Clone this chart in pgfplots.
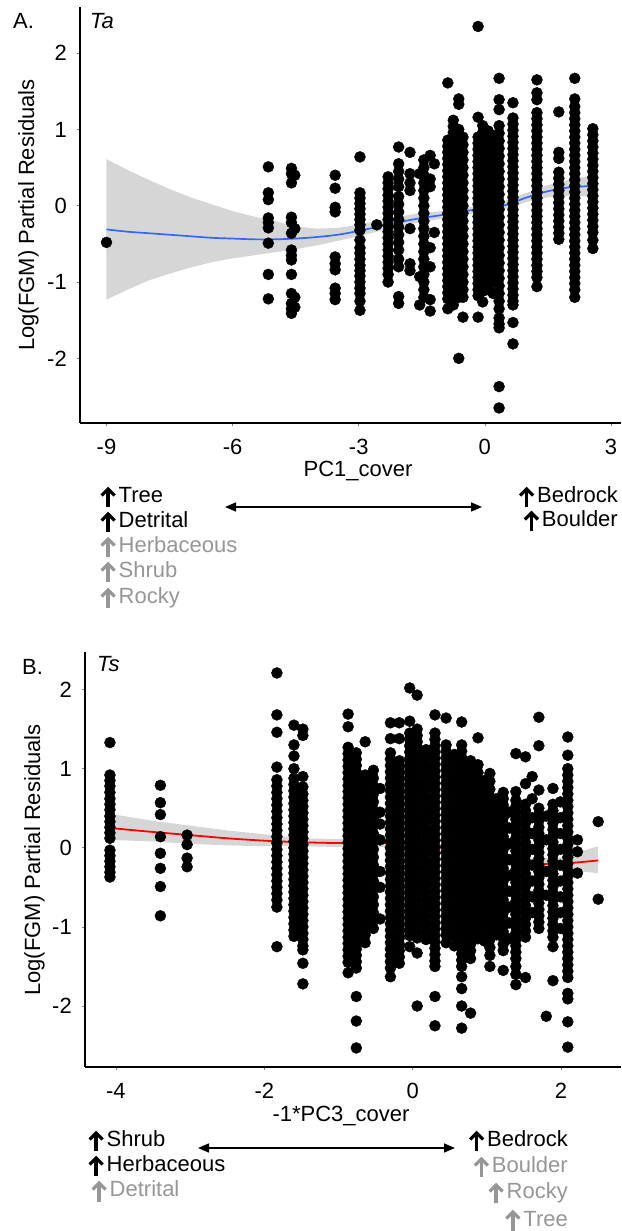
\documentclass[border=0pt]{standalone}
\usepackage{fontspec}
\setmainfont{Liberation Sans}
\usepackage{pgfplots}
\pgfplotsset{compat=1.18}
\usetikzlibrary{arrows.meta}
\definecolor{lbl}{HTML}{969696}
\definecolor{smoothblue}{HTML}{3366FF}
\definecolor{ribbon}{HTML}{999999}
\newcommand\up[1][black]{\tikz[baseline=0pt, x=1pt, y=1pt]{\useasboundingbox (0,-4) rectangle (18.5,15); \draw[#1, line width=3.6pt] (8,-4.5) -- (8,13); \draw[#1, line width=3.2pt, line join=miter, miter limit=10] (1.5,7.5) -- (8,14) -- (14.5,7.5);}}
\pgfplotsset{
 resid/.style={
  scale only axis, clip=false,
  axis x line=bottom, axis y line=left,
  axis line style={-, line width=1.8pt, black},
  tick align=outside, major tick length=3pt,
  tick style={line width=0.6pt, gray},
  ticklabel style={font=\fontsize{22}{26}\selectfont},
  xticklabel style={anchor=north, inner sep=0pt, yshift=-13pt},
  yticklabel style={anchor=east, inner sep=0pt, xshift=-10pt},
 },
 dots/.style={only marks, mark=*, mark size=5.5pt, black, mark options={draw=black, fill=black}},
}
\begin{document}
\begin{tikzpicture}[font=\fontsize{22}{26}\selectfont]
\useasboundingbox (0,0) rectangle (621pt,1231pt);
% ---------------- Panel A ----------------
\begin{axis}[resid, at={(80pt,808pt)}, anchor=south west, width=541pt, height=416pt,
  xmin=-9.63, xmax=3.24, ymin=-2.847, ymax=2.605,
  xtick={-9,-6,-3,0,3}, xticklabels={-9,-6,-3,0,3},
  ytick={-2,-1,0,1,2}, yticklabels={-2,-1,0,1,2}]
\addplot[dots] coordinates {
(-9.00,-0.48)
(-5.15,0.51)(-5.15,0.17)(-5.15,0.08)(-5.15,-0.16)(-5.15,-0.22)(-5.15,-0.29)(-5.15,-0.49)(-5.15,-0.90)(-5.15,-1.22)
(-4.60,0.49)(-4.60,0.42)(-4.60,0.30)(-4.60,-0.15)(-4.60,-0.22)(-4.60,-0.36)(-4.60,-0.58)(-4.60,-0.65)(-4.60,-0.71)(-4.60,-0.90)(-4.60,-1.15)(-4.60,-1.28)(-4.60,-1.35)(-4.60,-1.41)
(-4.52,0.40)(-4.52,-0.30)(-4.52,-1.20)(-4.52,-1.33)
(-3.56,0.40)(-3.56,0.23)(-3.56,-0.02)(-3.56,-0.08)(-3.56,-0.67)(-3.56,-0.76)(-3.56,-0.84)(-3.56,-1.08)(-3.56,-1.15)(-3.56,-1.23)
(-2.97,0.64)(-2.97,0.17)(-2.97,0.10)(-2.97,0.03)(-2.97,-0.04)(-2.97,-0.11)(-2.97,-0.18)(-2.97,-0.25)(-2.97,-0.32)(-2.97,-0.45)(-2.97,-0.55)(-2.97,-0.62)(-2.97,-0.70)(-2.97,-0.78)(-2.97,-0.85)(-2.97,-0.92)(-2.97,-1.00)(-2.97,-1.08)(-2.97,-1.15)(-2.97,-1.25)(-2.97,-1.37)
(-2.57,-0.25)
(-2.30,0.38)(-2.30,0.30)(-2.30,0.22)(-2.30,0.14)(-2.30,0.06)(-2.30,-0.02)(-2.30,-0.10)(-2.30,-0.18)(-2.30,-0.26)(-2.30,-0.34)(-2.30,-0.42)(-2.30,-0.50)(-2.30,-0.58)(-2.30,-0.66)(-2.30,-0.74)(-2.30,-0.82)(-2.30,-0.90)(-2.30,-1.00)
(-2.05,0.77)(-2.05,0.55)(-2.05,0.45)(-2.05,0.35)(-2.05,0.25)(-2.05,0.12)(-2.05,0.02)(-2.05,-0.08)(-2.05,-0.18)(-2.05,-0.28)(-2.05,-0.38)(-2.05,-0.48)(-2.05,-0.58)(-2.05,-0.70)(-2.05,-0.80)(-2.05,-1.19)(-2.05,-1.28)
(-1.78,0.70)(-1.78,0.42)(-1.78,0.30)(-1.78,0.20)(-1.78,-0.30)(-1.78,-0.76)(-1.78,-0.85)
(-1.55,0.42)(-1.55,-0.93)(-1.55,-1.30)
(-1.45,0.60)(-1.45,0.50)(-1.45,0.40)(-1.45,0.30)(-1.45,0.20)(-1.45,0.10)(-1.45,0.00)(-1.45,-0.10)(-1.45,-0.20)(-1.45,-0.30)(-1.45,-0.40)(-1.45,-0.50)(-1.45,-0.60)(-1.45,-0.70)(-1.45,-0.80)(-1.45,-0.90)(-1.45,-1.00)(-1.45,-1.10)(-1.45,-1.20)
(-1.30,0.66)(-1.30,0.35)(-1.30,0.25)(-1.30,-0.55)(-1.30,-0.80)(-1.30,-1.23)(-1.30,-1.38)
(-1.20,0.55)(-1.20,-0.35)
(-0.88,1.61)(-0.88,0.86)(-0.88,0.78)(-0.88,0.70)(-0.88,0.62)(-0.88,0.54)(-0.88,0.46)(-0.88,0.38)(-0.88,0.30)(-0.88,0.22)(-0.88,0.14)(-0.88,0.06)(-0.88,-0.02)(-0.88,-0.10)(-0.88,-0.18)(-0.88,-0.26)(-0.88,-0.34)(-0.88,-0.42)(-0.88,-0.50)(-0.88,-0.58)(-0.88,-0.66)(-0.88,-0.74)(-0.88,-0.82)(-0.88,-0.90)(-0.88,-0.98)(-0.88,-1.06)(-0.88,-1.14)(-0.88,-1.22)(-0.88,-1.35)
(-0.75,1.12)(-0.75,1.04)(-0.75,0.96)(-0.75,0.88)(-0.75,0.80)(-0.75,0.72)(-0.75,0.64)(-0.75,0.56)(-0.75,0.48)(-0.75,0.40)(-0.75,0.32)(-0.75,0.24)(-0.75,0.16)(-0.75,0.08)(-0.75,0.00)(-0.75,-0.08)(-0.75,-0.16)(-0.75,-0.24)(-0.75,-0.32)(-0.75,-0.40)(-0.75,-0.48)(-0.75,-0.56)(-0.75,-0.64)(-0.75,-0.72)(-0.75,-0.80)(-0.75,-0.88)(-0.75,-0.96)(-0.75,-1.04)(-0.75,-1.12)(-0.75,-1.20)(-0.75,-1.30)
(-0.62,1.40)(-0.62,1.33)(-0.62,1.00)(-0.62,0.92)(-0.62,0.84)(-0.62,0.76)(-0.62,0.68)(-0.62,0.60)(-0.62,0.52)(-0.62,0.44)(-0.62,0.36)(-0.62,0.28)(-0.62,0.20)(-0.62,0.12)(-0.62,0.04)(-0.62,-0.04)(-0.62,-0.12)(-0.62,-0.20)(-0.62,-0.28)(-0.62,-0.36)(-0.62,-0.44)(-0.62,-0.52)(-0.62,-0.60)(-0.62,-0.68)(-0.62,-0.76)(-0.62,-0.84)(-0.62,-0.92)(-0.62,-1.00)(-0.62,-1.07)(-0.62,-1.20)(-0.62,-2.00)
(-0.52,0.90)(-0.52,0.80)(-0.52,0.70)(-0.52,0.60)(-0.52,0.50)(-0.52,0.40)(-0.52,0.30)(-0.52,0.20)(-0.52,0.10)(-0.52,0.00)(-0.52,-0.10)(-0.52,-0.20)(-0.52,-0.30)(-0.52,-0.40)(-0.52,-0.50)(-0.52,-0.60)(-0.52,-0.70)(-0.52,-0.80)(-0.52,-0.90)(-0.52,-1.00)(-0.52,-1.10)(-0.52,-1.20)(-0.52,-1.46)
(-0.16,2.35)(-0.16,1.16)(-0.16,0.90)(-0.16,0.82)(-0.16,0.74)(-0.16,0.66)(-0.16,0.58)(-0.16,0.50)(-0.16,0.42)(-0.16,0.34)(-0.16,0.26)(-0.16,0.18)(-0.16,0.10)(-0.16,0.02)(-0.16,-0.06)(-0.16,-0.14)(-0.16,-0.22)(-0.16,-0.30)(-0.16,-0.38)(-0.16,-0.46)(-0.16,-0.54)(-0.16,-0.62)(-0.16,-0.70)(-0.16,-0.78)(-0.16,-0.86)(-0.16,-0.94)(-0.16,-1.02)(-0.16,-1.10)(-0.16,-1.18)(-0.16,-1.46)
(-0.05,1.05)(-0.05,0.96)(-0.05,0.88)(-0.05,0.80)(-0.05,0.72)(-0.05,0.64)(-0.05,0.56)(-0.05,0.48)(-0.05,0.40)(-0.05,0.32)(-0.05,0.24)(-0.05,0.16)(-0.05,0.08)(-0.05,0.00)(-0.05,-0.08)(-0.05,-0.16)(-0.05,-0.24)(-0.05,-0.32)(-0.05,-0.40)(-0.05,-0.48)(-0.05,-0.56)(-0.05,-0.64)(-0.05,-0.72)(-0.05,-0.80)(-0.05,-0.88)(-0.05,-0.96)(-0.05,-1.04)(-0.05,-1.12)(-0.05,-1.26)
(0.08,0.98)(0.08,0.90)(0.08,0.82)(0.08,0.74)(0.08,0.66)(0.08,0.58)(0.08,0.50)(0.08,0.42)(0.08,0.34)(0.08,0.26)(0.08,0.18)(0.08,0.10)(0.08,0.02)(0.08,-0.06)(0.08,-0.14)(0.08,-0.22)(0.08,-0.30)(0.08,-0.38)(0.08,-0.46)(0.08,-0.54)(0.08,-0.62)(0.08,-0.70)(0.08,-0.78)(0.08,-0.86)(0.08,-0.94)(0.08,-1.02)(0.08,-1.10)
(0.20,0.92)(0.20,0.80)(0.20,0.70)(0.20,0.60)(0.20,0.50)(0.20,0.40)(0.20,0.30)(0.20,0.20)(0.20,0.10)(0.20,0.00)(0.20,-0.10)(0.20,-0.20)(0.20,-0.30)(0.20,-0.40)(0.20,-0.50)(0.20,-0.60)(0.20,-0.70)(0.20,-0.80)(0.20,-0.90)(0.20,-1.00)(0.20,-1.15)
(0.34,1.67)(0.34,1.39)(0.34,1.26)(0.34,1.05)(0.34,0.95)(0.34,0.85)(0.34,0.75)(0.34,0.65)(0.34,0.55)(0.34,0.45)(0.34,0.35)(0.34,0.25)(0.34,0.15)(0.34,0.05)(0.34,-0.05)(0.34,-0.15)(0.34,-0.25)(0.34,-0.35)(0.34,-0.45)(0.34,-0.55)(0.34,-0.65)(0.34,-0.75)(0.34,-0.85)(0.34,-0.95)(0.34,-1.05)(0.34,-1.15)(0.34,-1.25)(0.34,-1.35)(0.34,-1.47)(0.34,-1.55)(0.34,-1.60)(0.34,-2.37)(0.34,-2.65)
(0.67,1.35)(0.67,1.15)(0.67,1.07)(0.67,0.99)(0.67,0.91)(0.67,0.83)(0.67,0.75)(0.67,0.67)(0.67,0.59)(0.67,0.51)(0.67,0.43)(0.67,0.35)(0.67,0.27)(0.67,0.19)(0.67,0.11)(0.67,0.03)(0.67,-0.05)(0.67,-0.13)(0.67,-0.21)(0.67,-0.29)(0.67,-0.37)(0.67,-0.45)(0.67,-0.53)(0.67,-0.61)(0.67,-0.69)(0.67,-0.77)(0.67,-0.85)(0.67,-0.93)(0.67,-1.01)(0.67,-1.09)(0.67,-1.17)(0.67,-1.25)(0.67,-1.30)(0.67,-1.53)(0.67,-1.81)
(1.24,1.65)(1.24,1.48)(1.24,1.39)(1.24,1.22)(1.24,1.14)(1.24,1.06)(1.24,0.98)(1.24,0.90)(1.24,0.82)(1.24,0.74)(1.24,0.66)(1.24,0.58)(1.24,0.50)(1.24,0.42)(1.24,0.34)(1.24,0.26)(1.24,0.18)(1.24,0.10)(1.24,0.02)(1.24,-0.06)(1.24,-0.14)(1.24,-0.22)(1.24,-0.30)(1.24,-0.38)(1.24,-0.46)(1.24,-0.54)(1.24,-0.62)(1.24,-0.70)(1.24,-0.78)(1.24,-0.86)(1.24,-0.94)(1.24,-1.06)
(1.76,1.23)(1.76,0.70)(1.76,0.62)(1.76,0.44)(1.76,0.36)(1.76,0.28)(1.76,0.20)(1.76,0.12)(1.76,0.04)(1.76,-0.04)(1.76,-0.12)(1.76,-0.20)(1.76,-0.28)(1.76,-0.36)(1.76,-0.44)
(2.14,1.67)(2.14,1.40)(2.14,1.30)(2.14,1.22)(2.14,1.14)(2.14,1.06)(2.14,0.98)(2.14,0.90)(2.14,0.82)(2.14,0.74)(2.14,0.66)(2.14,0.58)(2.14,0.50)(2.14,0.42)(2.14,0.34)(2.14,0.26)(2.14,0.18)(2.14,0.10)(2.14,0.02)(2.14,-0.06)(2.14,-0.14)(2.14,-0.22)(2.14,-0.30)(2.14,-0.38)(2.14,-0.46)(2.14,-0.54)(2.14,-0.62)(2.14,-0.70)(2.14,-0.78)(2.14,-0.86)(2.14,-0.94)(2.14,-1.02)(2.14,-1.10)(2.14,-1.20)
(2.57,1.01)(2.57,0.93)(2.57,0.85)(2.57,0.77)(2.57,0.69)(2.57,0.61)(2.57,0.53)(2.57,0.45)(2.57,0.37)(2.57,0.29)(2.57,0.21)(2.57,0.13)(2.57,0.05)(2.57,-0.03)(2.57,-0.11)(2.57,-0.19)(2.57,-0.27)(2.57,-0.35)(2.57,-0.45)(2.57,-0.56)
};
\addplot[draw=none, fill=ribbon, fill opacity=0.4] coordinates {
(-9,-1.23)(-8.5,-1.10)(-8,-0.98)(-7.5,-0.89)(-7,-0.81)(-6.5,-0.74)(-6,-0.69)(-5.5,-0.65)(-5,-0.61)(-4.5,-0.57)(-4,-0.52)(-3.5,-0.46)(-3,-0.40)(-2.5,-0.33)(-2,-0.27)(-1.5,-0.21)(-1,-0.17)(-0.5,-0.11)(0,-0.10)(0.5,-0.04)(1,0.05)(1.5,0.11)(2,0.13)(2.57,0.12)
(2.57,0.40)(2,0.34)(1.5,0.27)(1,0.17)(0.5,0.07)(0,0.02)(-0.5,-0.03)(-1,-0.07)(-1.5,-0.09)(-2,-0.14)(-2.5,-0.19)(-3,-0.25)(-3.5,-0.29)(-4,-0.30)(-4.5,-0.27)(-5,-0.20)(-5.5,-0.14)(-6,-0.07)(-6.5,0.02)(-7,0.11)(-7.5,0.22)(-8,0.34)(-8.5,0.47)(-9,0.61)
};
\addplot[smoothblue, line width=1.7pt, smooth] coordinates {
(-9,-0.31)(-8.5,-0.34)(-8,-0.36)(-7.5,-0.38)(-7,-0.40)(-6.5,-0.42)(-6,-0.43)(-5.5,-0.44)(-5,-0.44)(-4.5,-0.43)(-4,-0.41)(-3.5,-0.38)(-3,-0.33)(-2.5,-0.27)(-2,-0.21)(-1.5,-0.16)(-1,-0.12)(-0.5,-0.07)(0,-0.04)(0.5,0.01)(1,0.11)(1.5,0.19)(2,0.24)(2.57,0.26)
};
\end{axis}
% ---------------- Panel B ----------------
\begin{axis}[resid, at={(85pt,164pt)}, anchor=south west, width=536pt, height=415pt,
  xmin=-4.416, xmax=2.807, ymin=-2.771, ymax=2.475,
  xtick={-4,-2,0,2}, xticklabels={-4,-2,0,2},
  ytick={-2,-1,0,1,2}, yticklabels={-2,-1,0,1,2}]
\addplot[dots] coordinates {
(-4.08,1.33)(-4.08,0.92)(-4.08,0.85)(-4.08,0.78)(-4.08,0.70)(-4.08,0.62)(-4.08,0.55)(-4.08,0.48)(-4.08,0.40)(-4.08,0.33)(-4.08,0.26)(-4.08,0.19)(-4.08,0.12)(-4.08,-0.03)(-4.08,-0.10)(-4.08,-0.17)(-4.08,-0.24)(-4.08,-0.31)(-4.08,-0.37)
(-3.40,0.79)(-3.40,0.57)(-3.40,0.42)(-3.40,0.14)(-3.40,-0.07)(-3.40,-0.26)(-3.40,-0.49)(-3.40,-0.86)
(-3.04,0.16)(-3.04,0.04)(-3.04,-0.13)(-3.04,-0.24)
(-1.83,2.21)(-1.83,1.68)(-1.83,1.46)(-1.83,1.02)(-1.83,0.86)(-1.83,0.78)(-1.83,0.70)(-1.83,0.62)(-1.83,0.54)(-1.83,0.46)(-1.83,0.38)(-1.83,0.30)(-1.83,0.22)(-1.83,0.14)(-1.83,0.06)(-1.83,-0.02)(-1.83,-0.10)(-1.83,-0.18)(-1.83,-0.26)(-1.83,-0.34)(-1.83,-0.42)(-1.83,-0.50)(-1.83,-0.58)(-1.83,-0.66)(-1.83,-0.75)(-1.83,-1.25)
(-1.60,1.55)(-1.60,1.30)(-1.60,1.16)(-1.60,1.00)(-1.60,0.88)(-1.60,0.80)(-1.60,0.72)(-1.60,0.64)(-1.60,0.56)(-1.60,0.48)(-1.60,0.40)(-1.60,0.32)(-1.60,0.24)(-1.60,0.16)(-1.60,0.08)(-1.60,0.00)(-1.60,-0.08)(-1.60,-0.16)(-1.60,-0.24)(-1.60,-0.32)(-1.60,-0.40)(-1.60,-0.48)(-1.60,-0.56)(-1.60,-0.64)(-1.60,-0.72)(-1.60,-0.80)(-1.60,-0.88)(-1.60,-0.96)(-1.60,-1.04)(-1.60,-1.12)
(-1.48,1.50)(-1.48,1.42)(-1.48,0.90)(-1.48,0.77)(-1.48,0.68)(-1.48,0.60)(-1.48,0.52)(-1.48,0.44)(-1.48,0.36)(-1.48,0.28)(-1.48,0.20)(-1.48,0.12)(-1.48,0.04)(-1.48,-0.04)(-1.48,-0.12)(-1.48,-0.20)(-1.48,-0.28)(-1.48,-0.36)(-1.48,-0.44)(-1.48,-0.52)(-1.48,-0.60)(-1.48,-0.68)(-1.48,-0.76)(-1.48,-0.84)(-1.48,-0.92)(-1.48,-1.00)(-1.48,-1.08)(-1.48,-1.16)(-1.48,-1.24)(-1.48,-1.29)(-1.48,-1.46)(-1.48,-1.72)
(-0.87,1.69)(-0.87,1.53)(-0.87,1.27)(-0.87,1.19)(-0.87,1.11)(-0.87,1.03)(-0.87,0.95)(-0.87,0.87)(-0.87,0.79)(-0.87,0.71)(-0.87,0.63)(-0.87,0.55)(-0.87,0.47)(-0.87,0.39)(-0.87,0.31)(-0.87,0.23)(-0.87,0.15)(-0.87,0.07)(-0.87,-0.01)(-0.87,-0.09)(-0.87,-0.17)(-0.87,-0.25)(-0.87,-0.33)(-0.87,-0.41)(-0.87,-0.49)(-0.87,-0.57)(-0.87,-0.65)(-0.87,-0.73)(-0.87,-0.81)(-0.87,-0.89)(-0.87,-0.97)(-0.87,-1.05)(-0.87,-1.13)(-0.87,-1.21)(-0.87,-1.29)(-0.87,-1.37)(-0.87,-1.45)(-0.87,-1.58)
(-0.76,1.20)(-0.76,1.12)(-0.76,1.04)(-0.76,0.96)(-0.76,0.88)(-0.76,0.80)(-0.76,0.72)(-0.76,0.64)(-0.76,0.56)(-0.76,0.48)(-0.76,0.40)(-0.76,0.32)(-0.76,0.24)(-0.76,0.16)(-0.76,0.08)(-0.76,0.00)(-0.76,-0.08)(-0.76,-0.16)(-0.76,-0.24)(-0.76,-0.32)(-0.76,-0.40)(-0.76,-0.48)(-0.76,-0.56)(-0.76,-0.64)(-0.76,-0.72)(-0.76,-0.80)(-0.76,-0.88)(-0.76,-0.96)(-0.76,-1.04)(-0.76,-1.12)(-0.76,-1.20)(-0.76,-1.28)(-0.76,-1.36)(-0.76,-1.44)(-0.76,-1.52)(-0.76,-1.88)(-0.76,-2.19)(-0.76,-2.53)
(-0.64,1.34)(-0.64,0.92)(-0.64,0.84)(-0.64,0.76)(-0.64,0.68)(-0.64,0.60)(-0.64,0.52)(-0.64,0.44)(-0.64,0.36)(-0.64,0.28)(-0.64,0.20)(-0.64,0.12)(-0.64,0.04)(-0.64,-0.04)(-0.64,-0.12)(-0.64,-0.20)(-0.64,-0.28)(-0.64,-0.36)(-0.64,-0.44)(-0.64,-0.52)(-0.64,-0.60)(-0.64,-0.68)(-0.64,-0.76)(-0.64,-0.84)(-0.64,-0.92)(-0.64,-1.00)(-0.64,-1.10)(-0.64,-1.20)
(-0.53,0.98)(-0.53,0.88)(-0.53,0.78)(-0.53,0.68)(-0.53,0.58)(-0.53,0.48)(-0.53,0.38)(-0.53,0.28)(-0.53,0.18)(-0.53,0.08)(-0.53,-0.02)(-0.53,-0.12)(-0.53,-0.22)(-0.53,-0.32)(-0.53,-0.42)(-0.53,-0.52)(-0.53,-0.62)(-0.53,-0.72)(-0.53,-0.82)(-0.53,-0.92)(-0.53,-1.02)
(-0.44,0.75)(-0.44,0.45)(-0.44,0.30)(-0.44,0.10)(-0.44,-0.30)(-0.44,-0.50)(-0.44,-0.90)
(-0.30,1.58)(-0.30,1.38)(-0.30,1.20)(-0.30,1.12)(-0.30,1.04)(-0.30,0.96)(-0.30,0.88)(-0.30,0.80)(-0.30,0.72)(-0.30,0.64)(-0.30,0.56)(-0.30,0.48)(-0.30,0.40)(-0.30,0.32)(-0.30,0.24)(-0.30,0.16)(-0.30,0.08)(-0.30,0.00)(-0.30,-0.08)(-0.30,-0.16)(-0.30,-0.24)(-0.30,-0.32)(-0.30,-0.40)(-0.30,-0.48)(-0.30,-0.56)(-0.30,-0.64)(-0.30,-0.72)(-0.30,-0.80)(-0.30,-0.88)(-0.30,-0.96)(-0.30,-1.04)(-0.30,-1.12)(-0.30,-1.20)(-0.30,-1.28)(-0.30,-1.36)(-0.30,-1.44)(-0.30,-1.52)(-0.30,-1.63)
(-0.18,1.58)(-0.18,1.38)(-0.18,1.10)(-0.18,1.02)(-0.18,0.94)(-0.18,0.86)(-0.18,0.78)(-0.18,0.70)(-0.18,0.62)(-0.18,0.54)(-0.18,0.46)(-0.18,0.38)(-0.18,0.30)(-0.18,0.22)(-0.18,0.14)(-0.18,0.06)(-0.18,-0.02)(-0.18,-0.10)(-0.18,-0.18)(-0.18,-0.26)(-0.18,-0.34)(-0.18,-0.42)(-0.18,-0.50)(-0.18,-0.58)(-0.18,-0.66)(-0.18,-0.74)(-0.18,-0.82)(-0.18,-0.90)(-0.18,-0.98)(-0.18,-1.06)(-0.18,-1.14)(-0.18,-1.22)(-0.18,-1.30)(-0.18,-1.38)(-0.18,-1.46)
(-0.04,2.02)(-0.04,1.60)(-0.04,1.45)(-0.04,1.37)(-0.04,1.29)(-0.04,1.21)(-0.04,1.13)(-0.04,1.05)(-0.04,0.97)(-0.04,0.89)(-0.04,0.81)(-0.04,0.73)(-0.04,0.65)(-0.04,0.57)(-0.04,0.49)(-0.04,0.41)(-0.04,0.33)(-0.04,0.25)(-0.04,0.17)(-0.04,0.09)(-0.04,0.01)(-0.04,-0.07)(-0.04,-0.15)(-0.04,-0.23)(-0.04,-0.31)(-0.04,-0.39)(-0.04,-0.47)(-0.04,-0.55)(-0.04,-0.63)(-0.04,-0.71)(-0.04,-0.79)(-0.04,-0.87)(-0.04,-0.95)(-0.04,-1.03)(-0.04,-1.11)(-0.04,-1.25)
(0.06,1.93)(0.06,1.50)(0.06,1.42)(0.06,1.34)(0.06,1.26)(0.06,1.18)(0.06,1.10)(0.06,1.02)(0.06,0.94)(0.06,0.86)(0.06,0.78)(0.06,0.70)(0.06,0.62)(0.06,0.54)(0.06,0.46)(0.06,0.38)(0.06,0.30)(0.06,0.22)(0.06,0.14)(0.06,0.06)(0.06,-0.02)(0.06,-0.10)(0.06,-0.18)(0.06,-0.26)(0.06,-0.34)(0.06,-0.42)(0.06,-0.50)(0.06,-0.58)(0.06,-0.66)(0.06,-0.74)(0.06,-0.82)(0.06,-0.90)(0.06,-0.98)(0.06,-1.06)(0.06,-1.14)(0.06,-1.33)(0.06,-2.00)
(0.18,1.24)(0.18,1.14)(0.18,1.04)(0.18,0.94)(0.18,0.84)(0.18,0.74)(0.18,0.64)(0.18,0.54)(0.18,0.44)(0.18,0.34)(0.18,0.24)(0.18,0.14)(0.18,0.04)(0.18,-0.06)(0.18,-0.16)(0.18,-0.26)(0.18,-0.36)(0.18,-0.46)(0.18,-0.56)(0.18,-0.66)(0.18,-0.76)(0.18,-0.86)(0.18,-0.96)(0.18,-1.06)(0.18,-1.16)
(0.30,1.68)(0.30,1.45)(0.30,1.37)(0.30,1.29)(0.30,1.21)(0.30,1.13)(0.30,1.05)(0.30,0.97)(0.30,0.89)(0.30,0.81)(0.30,0.73)(0.30,0.65)(0.30,0.57)(0.30,0.49)(0.30,0.41)(0.30,0.33)(0.30,0.25)(0.30,0.17)(0.30,0.09)(0.30,0.01)(0.30,-0.07)(0.30,-0.15)(0.30,-0.23)(0.30,-0.31)(0.30,-0.39)(0.30,-0.47)(0.30,-0.55)(0.30,-0.63)(0.30,-0.71)(0.30,-0.79)(0.30,-0.87)(0.30,-0.95)(0.30,-1.03)(0.30,-1.11)(0.30,-1.19)(0.30,-1.27)(0.30,-1.35)(0.30,-1.43)(0.30,-1.50)(0.30,-1.88)(0.30,-2.25)
(0.45,1.64)(0.45,1.30)(0.45,1.22)(0.45,1.14)(0.45,1.06)(0.45,0.98)(0.45,0.90)(0.45,0.82)(0.45,0.74)(0.45,0.66)(0.45,0.58)(0.45,0.50)(0.45,0.42)(0.45,0.34)(0.45,0.26)(0.45,0.18)(0.45,0.10)(0.45,0.02)(0.45,-0.06)(0.45,-0.14)(0.45,-0.22)(0.45,-0.30)(0.45,-0.38)(0.45,-0.46)(0.45,-0.54)(0.45,-0.62)(0.45,-0.70)(0.45,-0.78)(0.45,-0.86)(0.45,-0.94)(0.45,-1.02)(0.45,-1.10)(0.45,-1.20)
(0.56,1.18)(0.56,1.08)(0.56,0.98)(0.56,0.88)(0.56,0.78)(0.56,0.68)(0.56,0.58)(0.56,0.48)(0.56,0.38)(0.56,0.28)(0.56,0.18)(0.56,0.08)(0.56,-0.02)(0.56,-0.12)(0.56,-0.22)(0.56,-0.32)(0.56,-0.42)(0.56,-0.52)(0.56,-0.62)(0.56,-0.72)(0.56,-0.82)(0.56,-0.92)(0.56,-1.02)(0.56,-1.12)(0.56,-1.24)
(0.66,1.59)(0.66,1.30)(0.66,1.22)(0.66,1.14)(0.66,1.06)(0.66,0.98)(0.66,0.90)(0.66,0.82)(0.66,0.74)(0.66,0.66)(0.66,0.58)(0.66,0.50)(0.66,0.42)(0.66,0.34)(0.66,0.26)(0.66,0.18)(0.66,0.10)(0.66,0.02)(0.66,-0.06)(0.66,-0.14)(0.66,-0.22)(0.66,-0.30)(0.66,-0.38)(0.66,-0.46)(0.66,-0.54)(0.66,-0.62)(0.66,-0.70)(0.66,-0.78)(0.66,-0.86)(0.66,-0.94)(0.66,-1.02)(0.66,-1.10)(0.66,-1.18)(0.66,-1.26)(0.66,-1.34)(0.66,-1.42)(0.66,-1.50)(0.66,-1.63)(0.66,-1.78)(0.66,-2.00)(0.66,-2.28)
(0.78,1.10)(0.78,1.02)(0.78,0.94)(0.78,0.86)(0.78,0.78)(0.78,0.70)(0.78,0.62)(0.78,0.54)(0.78,0.46)(0.78,0.38)(0.78,0.30)(0.78,0.22)(0.78,0.14)(0.78,0.06)(0.78,-0.02)(0.78,-0.10)(0.78,-0.18)(0.78,-0.26)(0.78,-0.34)(0.78,-0.42)(0.78,-0.50)(0.78,-0.58)(0.78,-0.66)(0.78,-0.74)(0.78,-0.82)(0.78,-0.90)(0.78,-0.98)(0.78,-1.06)(0.78,-1.14)(0.78,-1.22)(0.78,-1.30)(0.78,-1.40)(0.78,-2.09)
(0.88,1.39)(0.88,1.05)(0.88,0.95)(0.88,0.85)(0.88,0.75)(0.88,0.65)(0.88,0.55)(0.88,0.45)(0.88,0.35)(0.88,0.25)(0.88,0.15)(0.88,0.05)(0.88,-0.05)(0.88,-0.15)(0.88,-0.25)(0.88,-0.35)(0.88,-0.45)(0.88,-0.55)(0.88,-0.65)(0.88,-0.75)(0.88,-0.85)(0.88,-0.95)(0.88,-1.05)(0.88,-1.15)
(0.97,0.85)(0.97,0.75)(0.97,0.65)(0.97,0.55)(0.97,0.45)(0.97,0.35)(0.97,0.25)(0.97,0.15)(0.97,0.05)(0.97,-0.05)(0.97,-0.15)(0.97,-0.25)(0.97,-0.35)(0.97,-0.45)(0.97,-0.55)(0.97,-0.65)(0.97,-0.75)(0.97,-0.85)(0.97,-0.95)(0.97,-1.05)(0.97,-1.18)
(1.04,0.94)(1.04,0.84)(1.04,0.74)(1.04,0.64)(1.04,0.54)(1.04,0.44)(1.04,0.34)(1.04,0.24)(1.04,0.14)(1.04,0.04)(1.04,-0.06)(1.04,-0.16)(1.04,-0.26)(1.04,-0.36)(1.04,-0.46)(1.04,-0.56)(1.04,-0.66)(1.04,-0.76)(1.04,-0.86)(1.04,-0.96)(1.04,-1.06)(1.04,-1.16)(1.04,-1.26)(1.04,-1.36)(1.04,-1.50)
(1.13,0.62)(1.13,0.52)(1.13,0.42)(1.13,0.32)(1.13,0.22)(1.13,0.12)(1.13,0.02)(1.13,-0.08)(1.13,-0.18)(1.13,-0.28)(1.13,-0.38)(1.13,-0.48)(1.13,-0.58)(1.13,-0.68)(1.13,-0.78)(1.13,-0.88)(1.13,-0.98)(1.13,-1.10)
(1.22,0.70)(1.22,0.62)(1.22,0.54)(1.22,0.46)(1.22,0.38)(1.22,0.30)(1.22,0.22)(1.22,0.14)(1.22,0.06)(1.22,-0.02)(1.22,-0.10)(1.22,-0.18)(1.22,-0.26)(1.22,-0.34)(1.22,-0.42)(1.22,-0.50)(1.22,-0.58)(1.22,-0.66)(1.22,-0.74)(1.22,-0.82)(1.22,-0.90)(1.22,-0.98)(1.22,-1.06)(1.22,-1.14)(1.22,-1.22)(1.22,-1.30)(1.22,-1.55)
(1.30,0.45)(1.30,0.25)(1.30,0.05)(1.30,-0.15)(1.30,-0.35)(1.30,-0.55)(1.30,-0.75)(1.30,-0.95)(1.30,-1.15)
(1.39,1.19)(1.39,0.71)(1.39,0.60)(1.39,0.52)(1.39,0.44)(1.39,0.36)(1.39,0.28)(1.39,0.20)(1.39,0.12)(1.39,0.04)(1.39,-0.04)(1.39,-0.12)(1.39,-0.20)(1.39,-0.28)(1.39,-0.36)(1.39,-0.44)(1.39,-0.52)(1.39,-0.60)(1.39,-0.68)(1.39,-0.76)(1.39,-0.84)(1.39,-0.92)(1.39,-1.00)(1.39,-1.08)(1.39,-1.16)(1.39,-1.24)(1.39,-1.32)(1.39,-1.40)(1.39,-1.50)(1.39,-1.60)(1.39,-1.73)
(1.52,1.15)(1.52,0.81)(1.52,0.55)(1.52,0.47)(1.52,0.39)(1.52,0.31)(1.52,0.23)(1.52,0.15)(1.52,0.07)(1.52,-0.01)(1.52,-0.09)(1.52,-0.17)(1.52,-0.25)(1.52,-0.33)(1.52,-0.41)(1.52,-0.49)(1.52,-0.57)(1.52,-0.65)(1.52,-0.73)(1.52,-0.81)(1.52,-0.89)(1.52,-0.97)(1.52,-1.05)(1.52,-1.13)(1.52,-1.64)
(1.61,0.90)(1.61,0.62)(1.61,0.38)(1.61,0.18)(1.61,-0.02)(1.61,-0.22)(1.61,-0.42)(1.61,-0.62)(1.61,-0.82)
(1.70,1.65)(1.70,1.29)(1.70,0.73)(1.70,0.50)(1.70,0.42)(1.70,0.34)(1.70,0.26)(1.70,0.18)(1.70,0.10)(1.70,0.02)(1.70,-0.06)(1.70,-0.14)(1.70,-0.22)(1.70,-0.30)(1.70,-0.38)(1.70,-0.46)(1.70,-0.54)(1.70,-0.62)(1.70,-0.70)(1.70,-0.78)(1.70,-0.86)(1.70,-0.94)(1.70,-1.02)
(1.80,0.40)(1.80,0.10)(1.80,-0.30)(1.80,-0.60)(1.80,-2.13)
(1.89,0.75)(1.89,0.55)(1.89,0.47)(1.89,0.39)(1.89,0.31)(1.89,0.23)(1.89,0.15)(1.89,0.07)(1.89,-0.01)(1.89,-0.09)(1.89,-0.17)(1.89,-0.25)(1.89,-0.33)(1.89,-0.41)(1.89,-0.49)(1.89,-0.57)(1.89,-0.65)(1.89,-0.73)(1.89,-0.81)(1.89,-0.89)(1.89,-0.97)(1.89,-1.05)(1.89,-1.13)(1.89,-1.25)(1.89,-1.68)
(1.99,0.58)(1.99,0.38)(1.99,0.18)(1.99,-0.02)(1.99,-0.22)(1.99,-0.42)(1.99,-0.62)(1.99,-0.82)(1.99,-1.02)
(2.09,1.40)(2.09,1.17)(2.09,1.00)(2.09,0.92)(2.09,0.84)(2.09,0.76)(2.09,0.68)(2.09,0.60)(2.09,0.52)(2.09,0.44)(2.09,0.36)(2.09,0.28)(2.09,0.20)(2.09,0.12)(2.09,0.04)(2.09,-0.04)(2.09,-0.12)(2.09,-0.20)(2.09,-0.28)(2.09,-0.36)(2.09,-0.44)(2.09,-0.52)(2.09,-0.60)(2.09,-0.68)(2.09,-0.76)(2.09,-0.84)(2.09,-0.92)(2.09,-1.00)(2.09,-1.08)(2.09,-1.16)(2.09,-1.24)(2.09,-1.32)(2.09,-1.40)(2.09,-1.48)(2.09,-1.56)(2.09,-1.64)(2.09,-1.84)(2.09,-1.91)(2.09,-2.20)(2.09,-2.52)
(2.22,0.10)(2.22,-0.05)(2.22,-0.32)
(2.50,0.33)(2.50,-0.65)
};
\addplot[draw=none, fill=ribbon, fill opacity=0.4] coordinates {
(-4.08,0.10)(-3.5,0.08)(-3,0.05)(-2.5,0.03)(-2,0.02)(-1.5,0.02)(-1,0.01)(-0.5,0.01)(0,0.00)(0.5,-0.07)(1,-0.19)(1.5,-0.26)(2,-0.28)(2.5,-0.32)
(2.5,0.02)(2,-0.12)(1.5,-0.14)(1,-0.07)(0.5,0.03)(0,0.10)(-0.5,0.11)(-1,0.11)(-1.5,0.12)(-2,0.17)(-2.5,0.22)(-3,0.28)(-3.5,0.34)(-4.08,0.43)
};
\addplot[red, line width=1.8pt, smooth] coordinates {
(-4.08,0.25)(-3.5,0.20)(-3,0.16)(-2.5,0.12)(-2,0.09)(-1.5,0.07)(-1,0.06)(-0.5,0.06)(0,0.05)(0.5,-0.02)(1,-0.13)(1.5,-0.20)(2,-0.20)(2.5,-0.16)
};
\end{axis}
% ---------------- Annotations A ----------------
\node[anchor=base west, inner sep=0pt] at (13pt,1202pt) {A.};
\node[anchor=base west, inner sep=0pt] at (90pt,1202pt) {\textit{Ta}};
\node[rotate=90, anchor=base, inner sep=0pt] at (34pt,1016pt) {Log(FGM) Partial Residuals};
\node[anchor=base, inner sep=0pt] at (358pt,754pt) {PC1\_cover};
\node[anchor=base west, inner sep=0pt] at (100pt,728pt) {\up Tree};
\node[anchor=base west, inner sep=0pt] at (100pt,703pt) {\up Detrital};
\node[anchor=base west, inner sep=0pt, text=lbl] at (100pt,678pt) {\up[lbl]Herbaceous};
\node[anchor=base west, inner sep=0pt, text=lbl] at (100pt,653pt) {\up[lbl]Shrub};
\node[anchor=base west, inner sep=0pt, text=lbl] at (100pt,627pt) {\up[lbl]Rocky};
\node[anchor=base east, inner sep=0pt] at (618pt,728pt) {\up Bedrock};
\node[anchor=base east, inner sep=0pt] at (618pt,704pt) {\up Boulder};
\draw[{Triangle[length=11pt,width=9pt]}-{Triangle[length=11pt,width=9pt]}, line width=1.5pt] (225pt,724pt) -- (482pt,724pt);
% ---------------- Annotations B ----------------
\node[anchor=base west, inner sep=0pt] at (22pt,556pt) {B.};
\node[anchor=base west, inner sep=0pt] at (97pt,559pt) {\textit{Ts}};
\node[rotate=90, anchor=base, inner sep=0pt] at (40pt,371pt) {Log(FGM) Partial Residuals};
\node[anchor=base, inner sep=0pt] at (341pt,109pt) {-1*PC3\_cover};
\node[anchor=base west, inner sep=0pt] at (88pt,84pt) {\up Shrub};
\node[anchor=base west, inner sep=0pt] at (88pt,59pt) {\up Herbaceous};
\node[anchor=base west, inner sep=0pt, text=lbl] at (91pt,34pt) {\up[lbl]Detrital};
\node[anchor=base east, inner sep=0pt] at (568pt,84pt) {\up Bedrock};
\node[anchor=base east, inner sep=0pt, text=lbl] at (568pt,58pt) {\up[lbl]Boulder};
\node[anchor=base east, inner sep=0pt, text=lbl] at (568pt,32pt) {\up[lbl]Rocky};
\node[anchor=base east, inner sep=0pt, text=lbl] at (568pt,5pt) {\up[lbl]Tree};
\draw[{Triangle[length=11pt,width=9pt]}-{Triangle[length=11pt,width=9pt]}, line width=1.5pt] (198pt,83pt) -- (455pt,83pt);
\end{tikzpicture}
\end{document}
